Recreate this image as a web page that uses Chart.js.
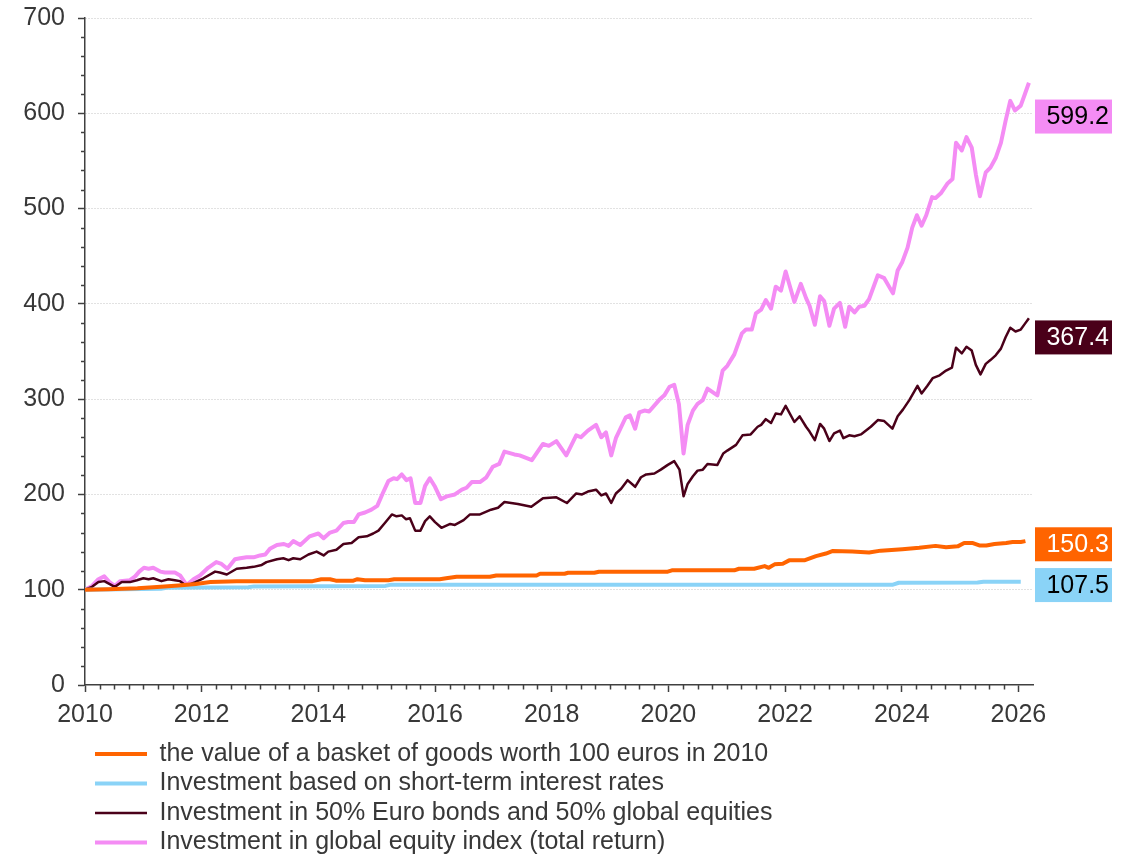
<!DOCTYPE html>
<html>
<head>
<meta charset="utf-8">
<script src="https://cdn.jsdelivr.net/npm/chart.js@4.4.1/dist/chart.umd.min.js"></script>
<style>
  html, body { margin: 0; padding: 0; background: #fff; }
</style>
</head>
<body>
<canvas id="myChart" width="1140" height="859"></canvas>
<script>
const seriesNames = [
  'the value of a basket of goods worth 100 euros in 2010',
  'Investment based on short-term interest rates',
  'Investment in 50% Euro bonds and 50% global equities',
  'Investment in global equity index (total return)'
];

const priceYears = [2010.0, 2010.4, 2010.9, 2011.3, 2011.6, 2011.9, 2012.15, 2012.6, 2013.9, 2014.05, 2014.2, 2014.3, 2014.6, 2014.67, 2014.8, 2015.2, 2015.3, 2016.08, 2016.19, 2016.37, 2016.94, 2017.05, 2017.74, 2017.8, 2018.22, 2018.28, 2018.73, 2018.81, 2019.99, 2020.06, 2021.13, 2021.21, 2021.47, 2021.65, 2021.72, 2021.82, 2021.96, 2022.07, 2022.33, 2022.53, 2022.7, 2022.81, 2023.15, 2023.44, 2023.64, 2024.01, 2024.3, 2024.58, 2024.76, 2024.96, 2025.07, 2025.22, 2025.33, 2025.45, 2025.59, 2025.79, 2025.9, 2026.04, 2026.12];
const priceValues = [100, 100.5, 101.5, 103, 104.5, 106, 108, 109, 109, 111, 111, 109.5, 109.5, 111, 110, 110, 111, 111, 112, 113.6, 113.6, 115, 115, 116.8, 116.8, 117.8, 117.8, 118.9, 118.9, 120.3, 120.3, 122, 122, 124.8, 123, 126.6, 127.3, 130.8, 130.8, 135.3, 138, 140.5, 140, 139, 141, 142.5, 144, 146, 144.5, 145.5, 149, 149, 146.5, 146.5, 148, 149, 150, 150, 151];

const rateYears = [2010.0, 2011.3, 2011.4, 2012.8, 2012.9, 2015.15, 2015.25, 2023.85, 2023.95, 2025.3, 2025.4, 2026.04];
const rateValues = [100, 101, 102, 102.5, 103.5, 104, 105.3, 105.3, 107.3, 107.5, 108.3, 108.3];

const mixedYears = [2010.0, 2010.12, 2010.23, 2010.33, 2010.51, 2010.63, 2010.77, 2010.89, 2011.0, 2011.09, 2011.17, 2011.31, 2011.43, 2011.54, 2011.63, 2011.74, 2011.89, 2012.03, 2012.23, 2012.31, 2012.43, 2012.6, 2012.77, 2012.89, 2013.03, 2013.11, 2013.29, 2013.4, 2013.49, 2013.57, 2013.69, 2013.83, 2013.97, 2014.09, 2014.17, 2014.31, 2014.43, 2014.57, 2014.69, 2014.83, 2014.94, 2015.03, 2015.14, 2015.26, 2015.34, 2015.43, 2015.5, 2015.57, 2015.66, 2015.75, 2015.83, 2015.91, 2016.0, 2016.11, 2016.26, 2016.34, 2016.49, 2016.6, 2016.77, 2016.96, 2017.08, 2017.19, 2017.42, 2017.65, 2017.85, 2018.08, 2018.26, 2018.42, 2018.52, 2018.62, 2018.76, 2018.85, 2018.93, 2019.02, 2019.1, 2019.19, 2019.3, 2019.43, 2019.53, 2019.62, 2019.76, 2019.87, 2019.99, 2020.1, 2020.19, 2020.26, 2020.33, 2020.42, 2020.5, 2020.59, 2020.67, 2020.84, 2020.94, 2021.01, 2021.16, 2021.27, 2021.41, 2021.53, 2021.59, 2021.67, 2021.76, 2021.84, 2021.93, 2022.01, 2022.16, 2022.25, 2022.36, 2022.42, 2022.51, 2022.6, 2022.67, 2022.76, 2022.84, 2022.94, 2023.0, 2023.1, 2023.19, 2023.3, 2023.47, 2023.59, 2023.7, 2023.84, 2023.93, 2024.02, 2024.13, 2024.27, 2024.34, 2024.44, 2024.53, 2024.65, 2024.76, 2024.86, 2024.93, 2025.03, 2025.11, 2025.2, 2025.27, 2025.35, 2025.44, 2025.52, 2025.61, 2025.7, 2025.78, 2025.86, 2025.95, 2026.04, 2026.11, 2026.18];
const mixedValues = [100, 103, 108, 109, 103, 108, 108, 110, 112, 111, 112, 109, 111, 110, 109, 104, 108, 112, 119, 118, 116, 122, 123, 124, 126, 129, 132, 133, 131, 133, 132, 137, 140, 136, 140, 142, 148, 149, 155, 156, 159, 162, 170, 179, 177, 178, 174, 175, 162, 162, 172, 177, 171, 165, 169, 168, 173, 179, 179, 184, 186, 192, 190, 187, 196, 197, 191, 201, 200, 203, 205, 199, 201, 191, 201, 206, 215, 208, 218, 221, 222, 226, 231, 235, 226, 198, 211, 219, 225, 226, 232, 231, 243, 246, 252, 262, 263, 271, 273, 279, 275, 285, 284, 293, 276, 282, 271, 266, 257, 274, 269, 256, 264, 267, 259, 262, 261, 263, 271, 278, 277, 269, 282, 289, 299, 314, 306, 314, 322, 325, 330, 333, 354, 348, 355, 351, 336, 326, 337, 341, 346, 353, 365, 375, 371, 373, 379, 385];

const equityYears = [2010.0, 2010.12, 2010.23, 2010.33, 2010.42, 2010.51, 2010.6, 2010.77, 2010.86, 2010.93, 2011.01, 2011.09, 2011.17, 2011.29, 2011.37, 2011.54, 2011.63, 2011.74, 2011.86, 2011.97, 2012.11, 2012.25, 2012.34, 2012.44, 2012.57, 2012.66, 2012.77, 2012.89, 2013.0, 2013.09, 2013.17, 2013.29, 2013.41, 2013.49, 2013.57, 2013.69, 2013.85, 2014.0, 2014.09, 2014.2, 2014.31, 2014.43, 2014.51, 2014.61, 2014.69, 2014.8, 2014.91, 2015.01, 2015.11, 2015.2, 2015.29, 2015.35, 2015.43, 2015.51, 2015.58, 2015.66, 2015.75, 2015.83, 2015.91, 2016.0, 2016.1, 2016.2, 2016.34, 2016.46, 2016.54, 2016.63, 2016.77, 2016.88, 2016.99, 2017.1, 2017.19, 2017.36, 2017.45, 2017.66, 2017.85, 2017.95, 2018.08, 2018.25, 2018.42, 2018.5, 2018.62, 2018.76, 2018.85, 2018.93, 2019.02, 2019.1, 2019.27, 2019.34, 2019.43, 2019.5, 2019.59, 2019.67, 2019.84, 2019.93, 2020.02, 2020.1, 2020.18, 2020.26, 2020.33, 2020.42, 2020.5, 2020.59, 2020.67, 2020.84, 2020.93, 2021.01, 2021.13, 2021.26, 2021.33, 2021.43, 2021.5, 2021.59, 2021.67, 2021.76, 2021.84, 2021.93, 2022.01, 2022.16, 2022.27, 2022.36, 2022.42, 2022.51, 2022.6, 2022.67, 2022.76, 2022.84, 2022.94, 2023.03, 2023.1, 2023.19, 2023.27, 2023.36, 2023.44, 2023.59, 2023.7, 2023.85, 2023.93, 2024.01, 2024.1, 2024.18, 2024.26, 2024.34, 2024.42, 2024.52, 2024.58, 2024.67, 2024.78, 2024.87, 2024.93, 2025.03, 2025.11, 2025.2, 2025.27, 2025.34, 2025.44, 2025.52, 2025.61, 2025.7, 2025.78, 2025.86, 2025.94, 2026.04, 2026.11, 2026.18];
const equityValues = [100, 104, 111, 114, 108, 104, 109, 110, 114, 119, 123, 122, 123, 119, 118, 118, 115, 105, 111, 115, 123, 129, 127, 122, 132, 133, 134, 134, 136, 137, 143, 147, 148, 146, 151, 147, 156, 159, 154, 160, 162, 170, 171, 171, 179, 181, 184, 188, 202, 214, 217, 216, 221, 215, 217, 191, 191, 209, 217, 208, 195, 198, 200, 205, 207, 213, 213, 218, 229, 232, 245, 242, 241, 236, 253, 251, 256, 241, 262, 260, 267, 273, 260, 265, 241, 259, 281, 283, 269, 286, 288, 287, 299, 304, 313, 315, 295, 243, 273, 288, 295, 299, 311, 304, 330, 335, 347, 369, 373, 373, 390, 394, 404, 395, 418, 414, 434, 402, 421, 406, 398, 378, 408, 403, 377, 395, 401, 376, 397, 391, 397, 398, 405, 430, 427, 411, 435, 444, 459, 480, 493, 482, 493, 512, 511, 516, 526, 531, 569, 561, 575, 564, 536, 513, 538, 543, 553, 569, 592, 613, 603, 608, 620, 632];

const endLabels = [150.3, 107.5, 367.4, 599.2];

const lineColors = ['#FF6400', '#8AD3F7', '#4A0019', '#F48CF4'];
const labelTextColors = ['#ffffff', '#000000', '#ffffff', '#000000'];
const lineWidths = [4, 4, 2.5, 4];
const textColor = '#383838';
const axisColor = '#404040';
const fontFamily = '"Liberation Sans", Arial, sans-serif';
const fontSize = 25;

function toPoints(xs, ys) {
  return xs.map((x, i) => ({ x: x, y: ys[i] }));
}

const seriesData = [
  toPoints(priceYears, priceValues),
  toPoints(rateYears, rateValues),
  toPoints(mixedYears, mixedValues),
  toPoints(equityYears, equityValues)
];

// small quarterly / 20-step ticks and the value boxes on the right
const extrasPlugin = {
  id: 'extras',
  afterLayout(chart) {
    const lg = chart.legend;
    lg.left += 5.5;
    lg.right += 5.5;
    lg.top += 2;
    lg.bottom += 2;
  },
  afterDraw(chart) {
    const ctx = chart.ctx;
    const xs = chart.scales.x;
    const ys = chart.scales.y;
    const area = chart.chartArea;
    ctx.save();
    ctx.strokeStyle = axisColor;
    ctx.lineWidth = 1.5;
    ctx.beginPath();
    for (let v = 20; v < 700; v += 20) {
      if (v % 100 === 0) continue;
      const py = Math.round(ys.getPixelForValue(v)) + 0.5;
      ctx.moveTo(area.left - 4, py);
      ctx.lineTo(area.left, py);
    }
    for (let q = 1; q < 65; q++) {
      if (q % 8 === 0) continue;
      const px = Math.round(xs.getPixelForValue(2010 + q / 4)) + 0.5;
      ctx.moveTo(px, area.bottom);
      ctx.lineTo(px, area.bottom + 4.5);
    }
    ctx.stroke();

    ctx.font = fontSize + 'px ' + fontFamily;
    ctx.textAlign = 'right';
    ctx.textBaseline = 'middle';
    endLabels.forEach((v, i) => {
      const cy = ys.getPixelForValue(v) + 2.5;
      const left = area.right + 2;
      ctx.fillStyle = lineColors[i];
      ctx.fillRect(left, cy - 17, 77, 34);
      ctx.fillStyle = labelTextColors[i];
      ctx.fillText(v.toFixed(1), left + 74, cy + 1);
    });
    ctx.restore();
  }
};

const ctx = document.getElementById('myChart').getContext('2d');

new Chart(ctx, {
  type: 'line',
  data: {
    datasets: seriesNames.map((name, i) => ({
      label: name,
      data: seriesData[i],
      borderColor: lineColors[i],
      backgroundColor: lineColors[i],
      borderWidth: lineWidths[i],
      pointRadius: 0,
      tension: 0,
      borderJoinStyle: 'round',
      fill: false
    }))
  },
  options: {
    responsive: false,
    animation: false,
    devicePixelRatio: 1,
    layout: { padding: { left: 0, right: 107, top: 18, bottom: 0 } },
    scales: {
      x: {
        type: 'linear',
        min: 2010,
        max: 2026.25,
        afterFit(scale) { scale.height = 50; },
        ticks: {
          stepSize: 2,
          includeBounds: false,
          autoSkip: false,
          maxRotation: 0,
          padding: 8,
          color: textColor,
          font: { family: fontFamily, size: fontSize },
          callback: v => String(v)
        },
        grid: { drawOnChartArea: false, tickLength: 7, tickColor: axisColor, tickWidth: 1.5 },
        border: { color: axisColor, width: 1.5 }
      },
      y: {
        min: 0,
        max: 700,
        afterFit(scale) {
          scale.width = 85;
          scale.paddingTop = 0;
          scale.paddingBottom = 0;
        },
        ticks: {
          stepSize: 100,
          padding: 13,
          color: textColor,
          font: { family: fontFamily, size: fontSize }
        },
        grid: {
          color: c => (c.tick && c.tick.value === 0 ? 'rgba(0,0,0,0)' : '#c4c4c4'),
          lineWidth: 1,
          tickLength: 7,
          tickColor: axisColor,
          tickWidth: 1.5,
          tickBorderDash: []
        },
        border: { color: axisColor, width: 1.5, dash: [1, 2] }
      }
    },
    plugins: {
      tooltip: { enabled: false },
      legend: {
        position: 'bottom',
        align: 'start',
        fullSize: false,
        maxHeight: 124,
        labels: {
          usePointStyle: true,
          pointStyle: 'line',
          pointStyleWidth: 52,
          padding: 4.5,
          color: textColor,
          font: { family: fontFamily, size: fontSize },
          generateLabels: chart => chart.data.datasets.map((ds, i) => ({
            text: ds.label,
            fillStyle: ds.borderColor,
            strokeStyle: ds.borderColor,
            lineWidth: ds.borderWidth,
            pointStyle: 'line',
            fontColor: textColor,
            hidden: false,
            datasetIndex: i
          }))
        }
      }
    }
  },
  plugins: [extrasPlugin]
});
</script>
</body>
</html>
